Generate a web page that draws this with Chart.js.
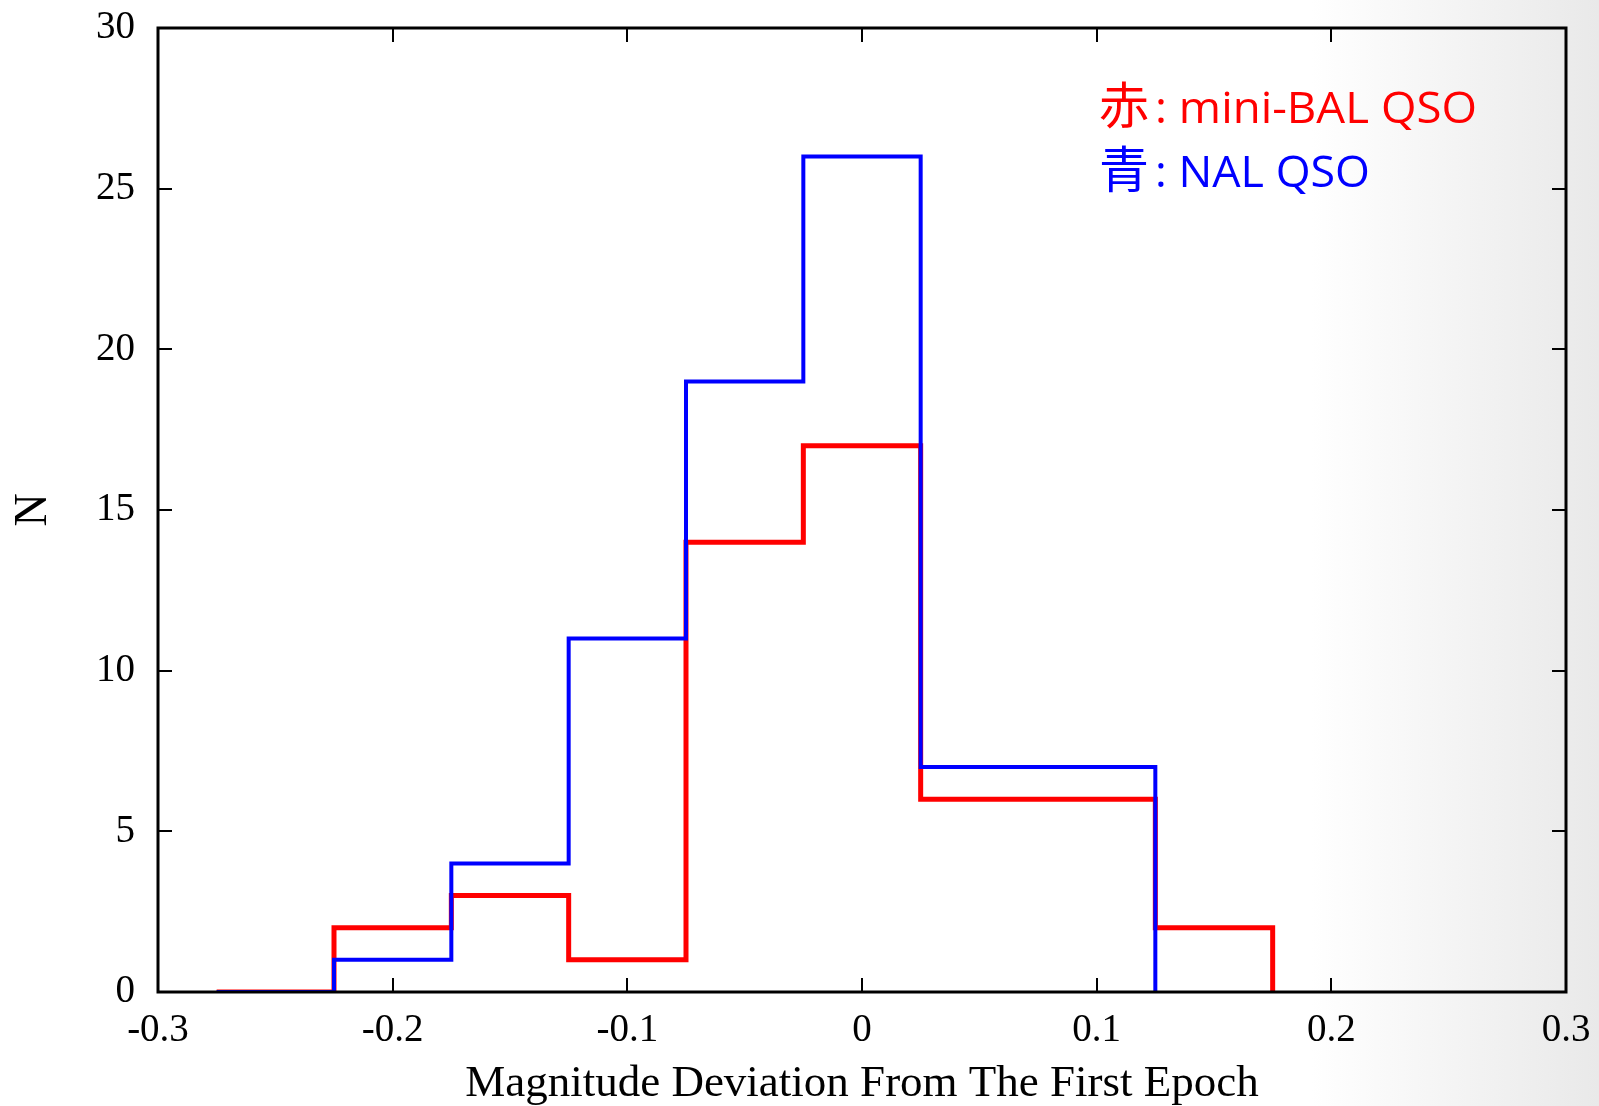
<!DOCTYPE html>
<html>
<head>
<meta charset="utf-8">
<title>Magnitude Deviation Histogram</title>
<script src="https://cdn.jsdelivr.net/npm/chart.js@4.4.0/dist/chart.umd.min.js"></script>
<style>
  html, body { margin: 0; padding: 0; }
  body {
    width: 1599px;
    height: 1106px;
    overflow: hidden;
    background: linear-gradient(to right, #ffffff 82%, #e9e9e9 100%);
  }
</style>
</head>
<body>
<canvas id="hist" width="1599" height="1106"></canvas>
<script>
// bin edges (width 0.05) and counts per bin
const binEdges = [-0.275, -0.225, -0.175, -0.125, -0.075, -0.025, 0.025, 0.075, 0.125, 0.175];
const miniBalCounts = [0, 2, 3, 1, 14, 17, 6, 6, 2];
const nalCounts = [0, 1, 4, 11, 19, 26, 7, 7];
const seriesMarks = ['赤', '青'];
const seriesNames = ['mini-BAL QSO', 'NAL QSO'];
const seriesColors = ['#ff0000', '#0000ff'];
const xTicks = [-0.3, -0.2, -0.1, 0, 0.1, 0.2, 0.3];
const yTicks = [0, 5, 10, 15, 20, 25, 30];

const serif = '"Liberation Serif", "Times New Roman", serif';

// each bin starts at its left edge, closing point drops back to zero
function stepPoints(counts) {
	const pts = counts.map((c, i) => ({ x: binEdges[i], y: c }));
	pts.push({ x: binEdges[counts.length], y: 0 });
	return pts;
}

function fmt(v) {
	return String(Number(v.toFixed(1)));
}

// box frame, inward ticks on all four sides, and the colour key
const frameAndKey = {
	id: 'frameAndKey',
	afterDatasetsDraw(chart) {
		const ctx = chart.ctx;
		const a = chart.chartArea;
		const xs = chart.scales.x, ys = chart.scales.y;
		const tl = 14;
		ctx.save();
		ctx.strokeStyle = '#000';
		ctx.lineWidth = 2;
		ctx.beginPath();
		xs.ticks.forEach(t => {
			const px = Math.round(xs.getPixelForValue(t.value));
			ctx.moveTo(px, a.bottom); ctx.lineTo(px, a.bottom - tl);
			ctx.moveTo(px, a.top); ctx.lineTo(px, a.top + tl);
		});
		ys.ticks.forEach(t => {
			const py = Math.round(ys.getPixelForValue(t.value));
			ctx.moveTo(a.left, py); ctx.lineTo(a.left + tl, py);
			ctx.moveTo(a.right, py); ctx.lineTo(a.right - tl, py);
		});
		ctx.stroke();
		ctx.lineWidth = 3;
		ctx.strokeRect(a.left, a.top, a.right - a.left, a.bottom - a.top);

		// key text: kanji colour name, then the sample name stretched to its slot
		const rows = [
			{ base: 123, from: 1155, to: 1477 },
			{ base: 187, from: 1155, to: 1370 }
		];
		ctx.textBaseline = 'alphabetic';
		ctx.textAlign = 'left';
		seriesNames.forEach((name, i) => {
			const r = rows[i];
			ctx.fillStyle = seriesColors[i];
			ctx.font = '50px "Noto Sans CJK JP"';
			ctx.fillText(seriesMarks[i], 1099, r.base + 1);
			ctx.font = '43px "Open Sans", sans-serif';
			const txt = ': ' + name;
			const w = ctx.measureText(txt).width;
			ctx.save();
			ctx.translate(r.from, r.base);
			ctx.scale((r.to - r.from) / w, 1);
			ctx.fillText(txt, 0, 0);
			ctx.restore();
		});
		ctx.restore();
	}
};

new Chart(document.getElementById('hist').getContext('2d'), {
	type: 'line',
	data: {
		datasets: [
			{
				label: seriesMarks[1] + ': ' + seriesNames[1],
				data: stepPoints(nalCounts),
				borderColor: seriesColors[1],
				borderWidth: 4,
				stepped: 'before',
				pointRadius: 0,
				fill: false,
				order: 1
			},
			{
				label: seriesMarks[0] + ': ' + seriesNames[0],
				data: stepPoints(miniBalCounts),
				borderColor: seriesColors[0],
				borderWidth: 5,
				stepped: 'before',
				pointRadius: 0,
				fill: false,
				order: 2
			}
		]
	},
	options: {
		responsive: false,
		animation: false,
		layout: { padding: { top: 28, right: 33, left: 0, bottom: 0 } },
		plugins: {
			legend: { display: false },
			tooltip: { enabled: false }
		},
		scales: {
			x: {
				type: 'linear',
				min: -0.3,
				max: 0.3,
				afterBuildTicks: s => { s.ticks = xTicks.map(v => ({ value: v })); },
				afterFit: s => { s.height = 114; s.paddingLeft = 0; s.paddingRight = 0; },
				grid: { display: false, drawTicks: false },
				border: { display: false },
				ticks: {
					padding: 15,
					color: '#000',
					font: { family: serif, size: 39 },
					maxRotation: 0,
					callback: v => fmt(v)
				},
				title: {
					display: true,
					text: 'Magnitude Deviation From The First Epoch',
					color: '#000',
					font: { family: serif, size: 45 },
					padding: { top: 0, bottom: -5 }
				}
			},
			y: {
				min: 0,
				max: 30,
				afterBuildTicks: s => { s.ticks = yTicks.map(v => ({ value: v })); },
				afterFit: s => { s.width = 158; s.paddingTop = 0; s.paddingBottom = 0; },
				grid: { display: false, drawTicks: false },
				border: { display: false },
				ticks: {
					padding: 23,
					color: '#000',
					font: { family: serif, size: 39 },
					callback: v => String(v)
				},
				title: {
					display: true,
					text: 'N',
					color: '#000',
					font: { family: serif, size: 46 },
					padding: { top: 6, bottom: 0 }
				}
			}
		}
	},
	plugins: [frameAndKey]
});
</script>
</body>
</html>
